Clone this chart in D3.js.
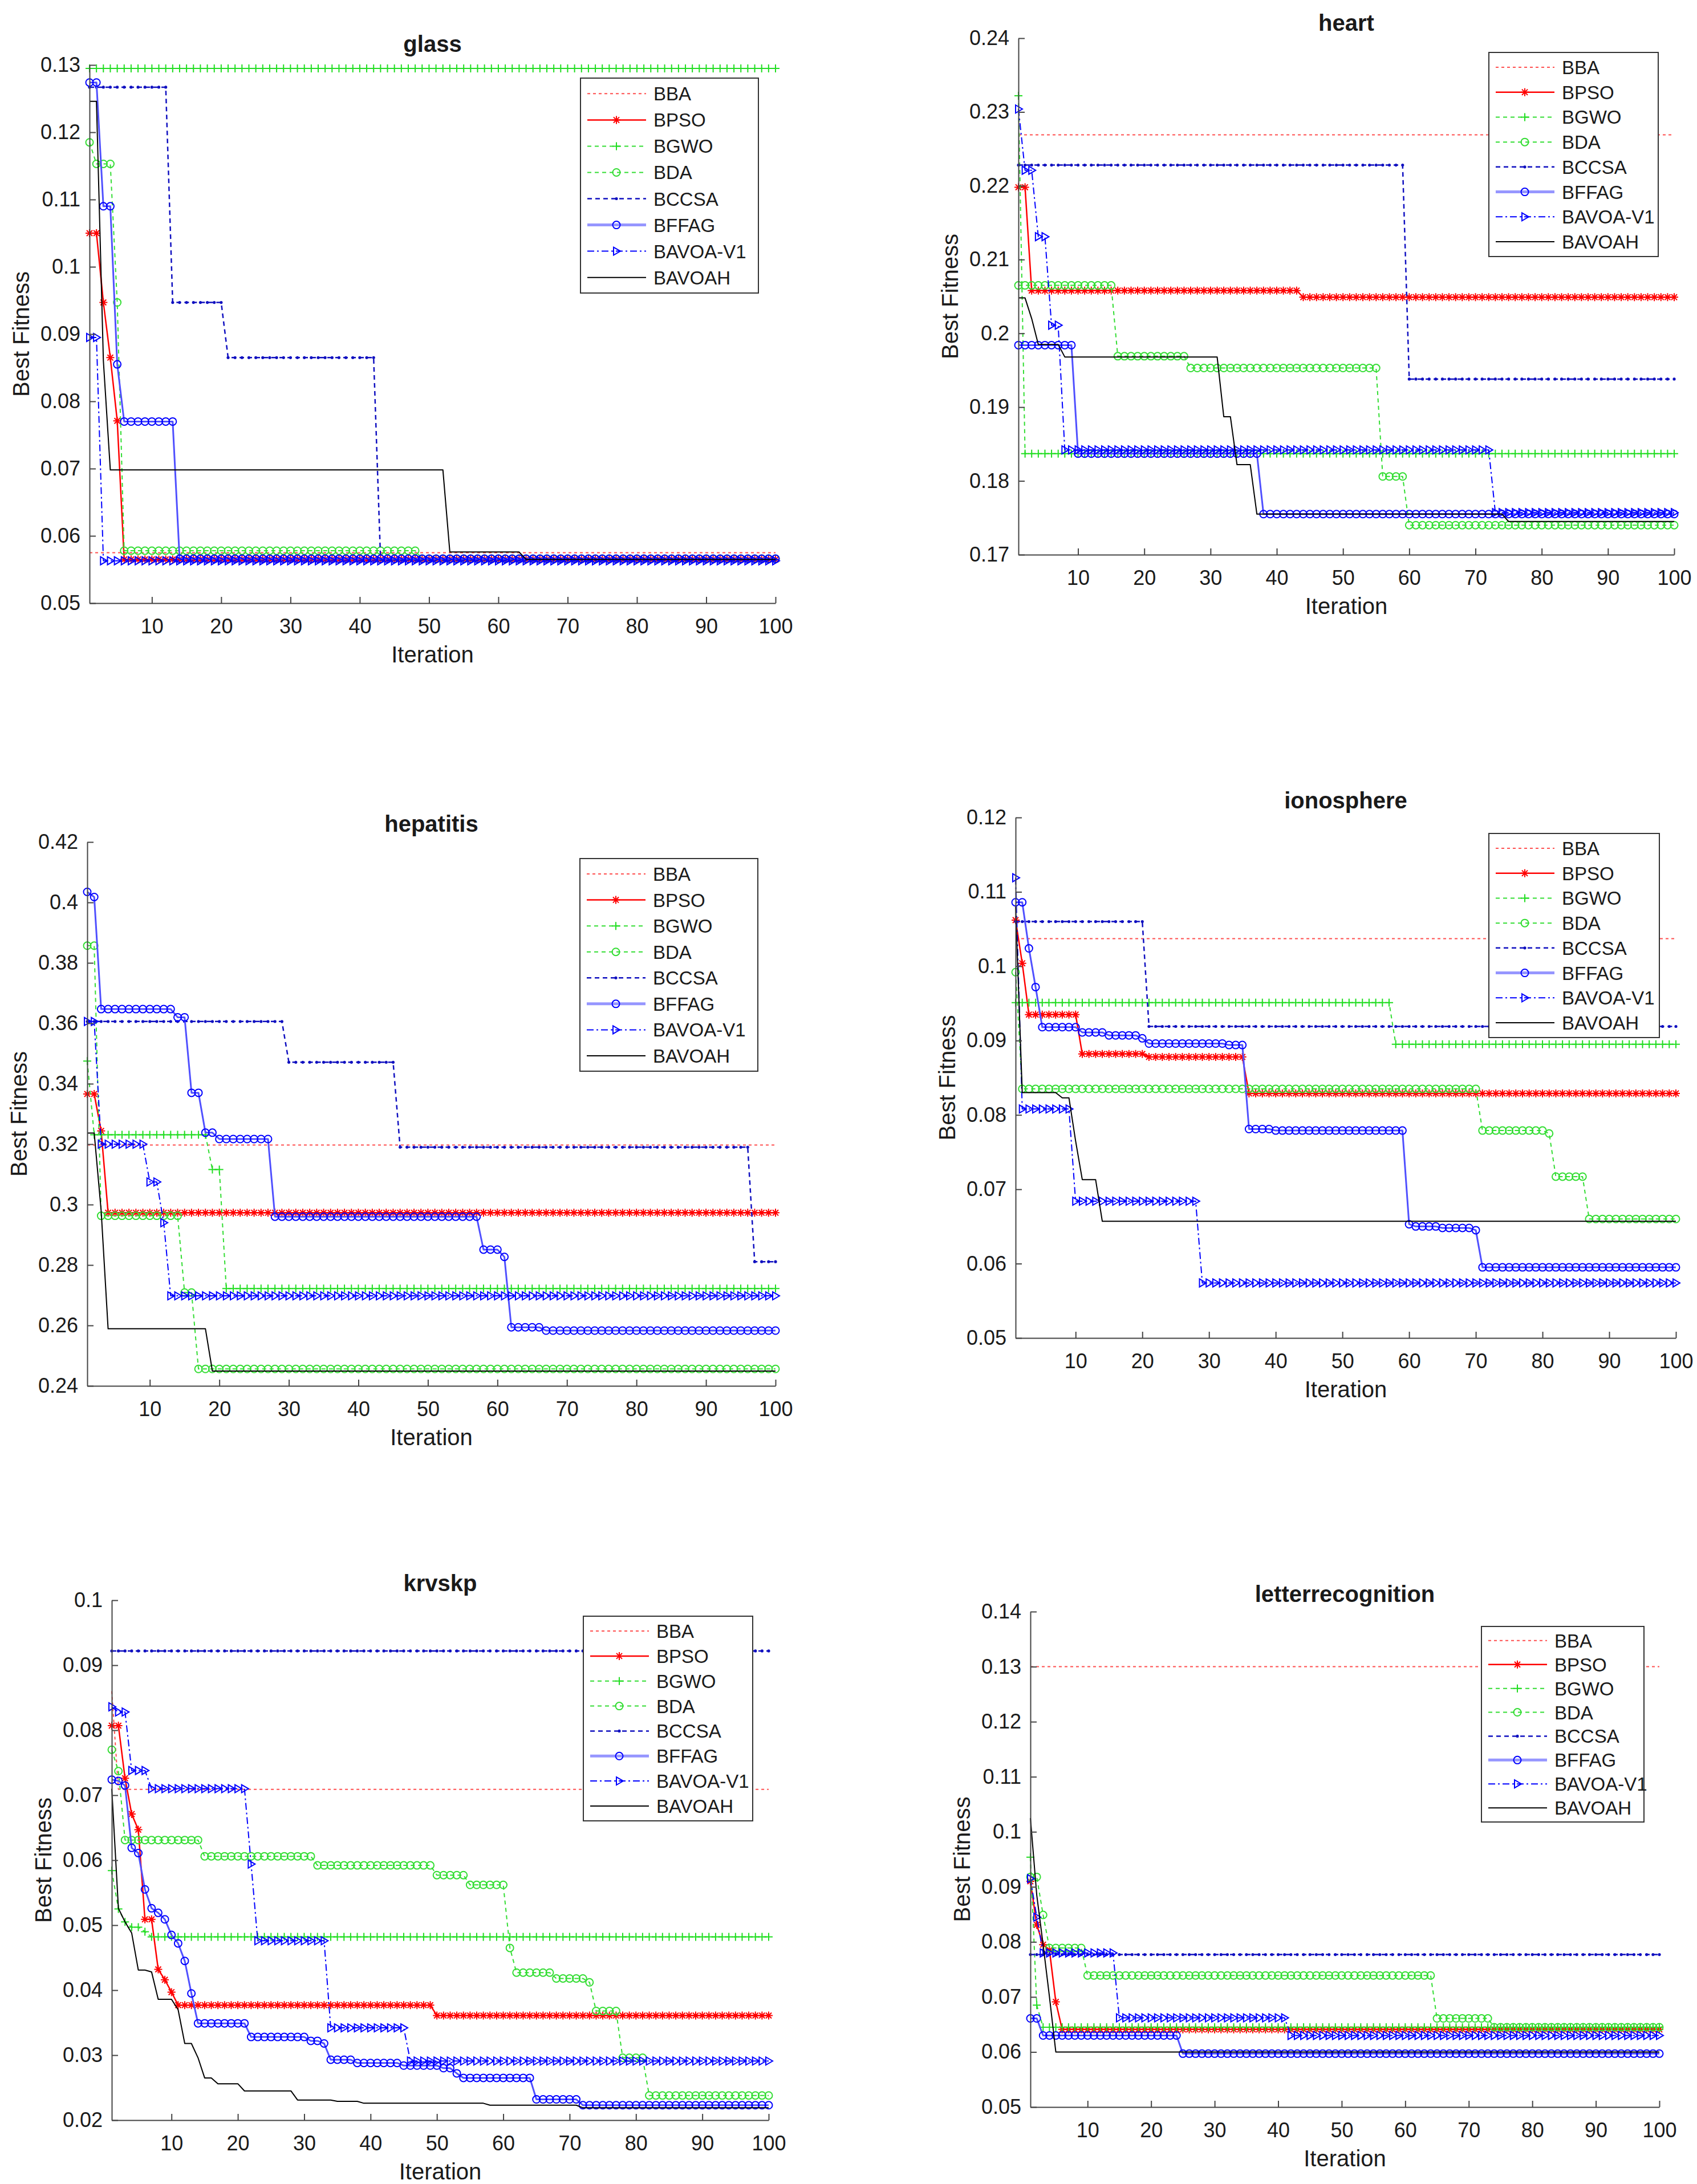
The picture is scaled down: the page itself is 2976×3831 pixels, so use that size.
<!DOCTYPE html>
<html>
<head>
<meta charset="utf-8">
<script src="https://cdn.jsdelivr.net/npm/d3@7"></script>
<style>
  body { margin: 0; background: #fff; }
  text { font-family: "Liberation Sans", Arial, sans-serif; fill: #1a1a1a; }
</style>
</head>
<body>
<svg id="chart" width="2976" height="3831"></svg>
<script>
// Algorithms in plot / legend order
const algorithms = ["BBA", "BPSO", "BGWO", "BDA", "BCCSA", "BFFAG", "BAVOA-V1", "BAVOAH"];
const iterations = d3.range(1, 101);
const xTicks = [10, 20, 30, 40, 50, 60, 70, 80, 90, 100];

// Convergence curves.
// Each entry: [first iteration, best fitness], value held until the next entry.
const glassSteps = [
    [[1, 0.0575]],
    [[1, 0.105], [3, 0.0947], [4, 0.0865], [5, 0.0771], [6, 0.0565]],
    [[1, 0.1295]],
    [[1, 0.1185], [2, 0.1153], [5, 0.0947], [6, 0.0578], [49, 0.0566]],
    [[1, 0.1267], [13, 0.0947], [21, 0.0865], [43, 0.0565]],
    [[1, 0.1274], [3, 0.109], [5, 0.0855], [6, 0.077], [14, 0.0566]],
    [[1, 0.0895], [3, 0.0563]],
    [[1, 0.1246], [3, 0.086], [4, 0.0698], [53, 0.0576], [64, 0.0565]]
];
const heartSteps = [
    [[1, 0.2269]],
    [[1, 0.2198], [3, 0.2058], [44, 0.2049]],
    [[1, 0.2322], [2, 0.1837]],
    [[1, 0.2065], [16, 0.1969], [27, 0.1953], [56, 0.1806], [60, 0.174]],
    [[1, 0.2228], [60, 0.1938]],
    [[1, 0.1984], [10, 0.1837], [38, 0.1755]],
    [[1, 0.2304], [2, 0.2221], [4, 0.2131], [6, 0.2011], [8, 0.1842], [73, 0.1757]],
    [[1, 0.2048], [3, 0.202], [4, 0.1985], [8, 0.1968], [32, 0.1887], [34, 0.1822], [37, 0.1755], [75, 0.1745]]
];
const hepatitisSteps = [
    [[1, 0.3197]],
    [[1, 0.3366], [3, 0.3244], [4, 0.2973]],
    [[1, 0.3475], [2, 0.3231], [19, 0.3116], [21, 0.2722]],
    [[1, 0.3857], [3, 0.2963], [15, 0.2709], [17, 0.2456]],
    [[1, 0.3606], [30, 0.3471], [46, 0.319], [97, 0.2811]],
    [[1, 0.4035], [2, 0.4018], [3, 0.3647], [14, 0.362], [16, 0.337], [18, 0.3238], [20, 0.3217],
     [28, 0.296], [58, 0.2851], [61, 0.2827], [62, 0.2594], [67, 0.2583]],
    [[1, 0.3606], [3, 0.32], [10, 0.3075], [12, 0.294], [13, 0.2698]],
    [[1, 0.3237], [3, 0.298], [4, 0.2589], [19, 0.2449]]
];
const ionosphereSteps = [
    [[1, 0.1037]],
    [[1, 0.1062], [2, 0.1004], [3, 0.0935], [11, 0.0882], [21, 0.0878], [36, 0.0829]],
    [[1, 0.0951], [58, 0.0895]],
    [[1, 0.0992], [2, 0.0835], [71, 0.0779], [81, 0.0775], [82, 0.0717], [87, 0.066]],
    [[1, 0.106], [21, 0.0919]],
    [[1, 0.1086], [3, 0.1024], [4, 0.0972], [5, 0.0918], [11, 0.0911], [15, 0.0907], [20, 0.0903],
     [21, 0.0896], [33, 0.0894], [36, 0.0781], [40, 0.0779], [60, 0.0653], [61, 0.065], [65, 0.0648],
     [70, 0.0645], [71, 0.0595]],
    [[1, 0.1119], [2, 0.0808], [10, 0.0684], [29, 0.0574]],
    [[1, 0.108], [2, 0.083], [8, 0.0823], [10, 0.0765], [11, 0.0713], [14, 0.0657]]
];
const krvskpSteps = [
    [[1, 0.086], [2, 0.0709]],
    [[1, 0.0807], [3, 0.0726], [4, 0.0671], [5, 0.0647], [6, 0.0509], [8, 0.0432], [9, 0.0416],
     [10, 0.0397], [11, 0.0377], [50, 0.0361]],
    [[1, 0.0584], [2, 0.0525], [3, 0.0505], [4, 0.0497], [6, 0.049], [7, 0.0482]],
    [[1, 0.077], [2, 0.0737], [3, 0.0631], [15, 0.0606], [32, 0.0592], [50, 0.0577], [55, 0.0562],
     [61, 0.0465], [62, 0.0427], [68, 0.0418], [73, 0.0412], [74, 0.0368], [78, 0.0296], [82, 0.0238]],
    [[1, 0.0922]],
    [[1, 0.0724], [2, 0.0722], [3, 0.0715], [4, 0.0619], [5, 0.0611], [6, 0.0555], [7, 0.0526],
     [8, 0.0519], [9, 0.0509], [10, 0.0485], [11, 0.0472], [12, 0.0445], [13, 0.0395], [14, 0.0349],
     [22, 0.0328], [31, 0.0322], [33, 0.0318], [34, 0.0293], [38, 0.0288], [45, 0.0284], [51, 0.028],
     [53, 0.0272], [54, 0.0265], [65, 0.0232], [72, 0.0223]],
    [[1, 0.0836], [2, 0.0828], [4, 0.0738], [7, 0.071], [22, 0.0594], [23, 0.0476], [34, 0.0342], [46, 0.0291]],
    [[1, 0.071], [2, 0.0526], [3, 0.0505], [4, 0.0488], [5, 0.0431], [7, 0.0428], [8, 0.0386], [11, 0.037],
     [12, 0.0318], [14, 0.0296], [15, 0.0265], [17, 0.0256], [21, 0.0245], [29, 0.0231], [35, 0.0229],
     [39, 0.0226], [58, 0.0223], [72, 0.0219]]
];
const letterSteps = [
    [[1, 0.13]],
    [[1, 0.091], [2, 0.0831], [3, 0.0795], [4, 0.0785], [5, 0.0691], [6, 0.0641]],
    [[1, 0.0954], [2, 0.0685], [3, 0.0645]],
    [[1, 0.0918], [3, 0.0849], [4, 0.0789], [10, 0.0739], [65, 0.0661], [74, 0.0645]],
    [[1, 0.0777]],
    [[1, 0.0661], [3, 0.063], [25, 0.0597]],
    [[1, 0.0915], [2, 0.0845], [3, 0.078], [15, 0.0662], [42, 0.063]],
    [[1, 0.1025], [2, 0.0885], [3, 0.0795], [4, 0.07], [5, 0.06]]
];

// Y tick values per dataset
const glassTicks = [0.05, 0.06, 0.07, 0.08, 0.09, 0.1, 0.11, 0.12, 0.13];
const heartTicks = [0.17, 0.18, 0.19, 0.2, 0.21, 0.22, 0.23, 0.24];
const hepatitisTicks = [0.24, 0.26, 0.28, 0.3, 0.32, 0.34, 0.36, 0.38, 0.4, 0.42];
const ionosphereTicks = [0.05, 0.06, 0.07, 0.08, 0.09, 0.1, 0.11, 0.12];
const krvskpTicks = [0.02, 0.03, 0.04, 0.05, 0.06, 0.07, 0.08, 0.09, 0.1];
const letterTicks = [0.05, 0.06, 0.07, 0.08, 0.09, 0.1, 0.11, 0.12, 0.13, 0.14];

// Panel layout (pixels) - kept apart from the data
const layout = [
    {left: 157, right: 1360, top: 114, bottom: 1058, titleY: 91, legend: [1018, 137, 1330, 514]},
    {left: 1786, right: 2936, top: 67, bottom: 973, titleY: 54, legend: [2611, 92, 2908, 450]},
    {left: 153, right: 1360, top: 1477, bottom: 2431, titleY: 1459, legend: [1017, 1506, 1329, 1879]},
    {left: 1781, right: 2939, top: 1434, bottom: 2347, titleY: 1418, legend: [2611, 1462, 2910, 1820]},
    {left: 196, right: 1348, top: 2807, bottom: 3719, titleY: 2791, legend: [1023, 2835, 1320, 3194]},
    {left: 1807, right: 2910, top: 2827, bottom: 3696, titleY: 2810, legend: [2598, 2853, 2883, 3196]}
];

const panels = [
    {name: "glass", steps: glassSteps, ticks: glassTicks},
    {name: "heart", steps: heartSteps, ticks: heartTicks},
    {name: "hepatitis", steps: hepatitisSteps, ticks: hepatitisTicks},
    {name: "ionosphere", steps: ionosphereSteps, ticks: ionosphereTicks},
    {name: "krvskp", steps: krvskpSteps, ticks: krvskpTicks},
    {name: "letterrecognition", steps: letterSteps, ticks: letterTicks}
];

// Line / marker style per algorithm (MATLAB-like)
const styles = [
    {color: "#ff5050", width: 2, dash: "5,5", marker: null},
    {color: "#ff0000", width: 2.5, dash: null, marker: "star", mColor: "#ff0000"},
    {color: "#33dd33", width: 2, dash: "7,6", marker: "plus", mColor: "#22dd22"},
    {color: "#33dd33", width: 2, dash: "7,6", marker: "circle", mColor: "#33dd33"},
    {color: "#1010c0", width: 2.5, dash: "8,6", marker: "dot", mColor: "#1010c0"},
    {color: "#5050ff", width: 3, dash: null, marker: "circle", mColor: "#0000ff"},
    {color: "#0000ff", width: 2, dash: "12,5,3,5", marker: "tri", mColor: "#0000ff"},
    {color: "#000000", width: 2, dash: null, marker: null}
];

function markerPath(type) {
    const s = 7, a = s * 0.72, r = 6.5;
    if (type === "plus") return `M${-s},0H${s}M0,${-s}V${s}`;
    if (type === "star") return `M${-s},0H${s}M0,${-s}V${s}M${-a},${-a}L${a},${a}M${-a},${a}L${a},${-a}`;
    if (type === "circle") return `M${r},0A${r},${r} 0 1,1 ${-r},0A${r},${r} 0 1,1 ${r},0Z`;
    if (type === "tri") return `M-5,-7L7,0L-5,7Z`;
    if (type === "dot") return `M2.6,0A2.6,2.6 0 1,1 -2.6,0A2.6,2.6 0 1,1 2.6,0Z`;
    return "";
}

function expand(steps) {
    // hold each read value until the next change point
    return iterations.map(i => {
        let v = steps[0][1];
        steps.forEach(s => { if (s[0] <= i) v = s[1]; });
        return {i: i, v: v};
    });
}

function drawMarkers(g, pts, st, xs, ys) {
    if (!st.marker) return;
    g.selectAll(null)
        .data(pts)
        .enter()
        .append("path")
            .attr("transform", d => "translate(" + xs(d.i) + "," + ys(d.v) + ")")
            .attr("d", markerPath(st.marker))
            .attr("fill", st.marker === "dot" ? st.mColor : "none")
            .attr("stroke", st.mColor)
            .attr("stroke-width", st.marker === "dot" ? 0 : 2);
}

const svg = d3.select("#chart");

panels.forEach((p, k) => {
    const L = layout[k];
    const g = svg.append("g");

    const x = d3.scaleLinear().domain([1, 100]).range([L.left, L.right]);
    const y = d3.scaleLinear().domain([p.ticks[0], p.ticks[p.ticks.length - 1]]).range([L.bottom, L.top]);

    // series
    const line = d3.line().x(d => x(d.i)).y(d => y(d.v));
    p.steps.forEach((steps, j) => {
        const st = styles[j];
        const pts = expand(steps);
        g.append("path")
            .datum(pts)
            .attr("d", line)
            .attr("fill", "none")
            .attr("stroke", st.color)
            .attr("stroke-width", st.width)
            .attr("stroke-dasharray", st.dash)
            .attr("stroke-linejoin", "round");
        drawMarkers(g, pts, st, x, y);
    });

    // axes (MATLAB style: ticks inside, no box)
    const ax = g.append("g")
        .attr("transform", "translate(0," + L.bottom + ")")
        .call(d3.axisBottom(x).tickValues(xTicks).tickSizeInner(-11).tickSizeOuter(0).tickPadding(27));
    const ay = g.append("g")
        .attr("transform", "translate(" + L.left + ",0)")
        .call(d3.axisLeft(y).tickValues(p.ticks).tickFormat(d3.format("~g"))
            .tickSizeInner(-11).tickSizeOuter(0).tickPadding(16));
    [ax, ay].forEach(a => {
        a.select(".domain").attr("stroke", "#444").attr("stroke-width", 2);
        a.selectAll(".tick line").attr("stroke", "#444").attr("stroke-width", 2);
        a.selectAll(".tick text")
            .style("font-family", '"Liberation Sans", Arial, sans-serif')
            .style("font-size", "36px")
            .attr("fill", "#1a1a1a");
    });

    // title and axis labels
    g.append("text")
        .attr("x", (L.left + L.right) / 2)
        .attr("y", L.titleY)
        .attr("text-anchor", "middle")
        .style("font-size", "40px")
        .style("font-weight", "bold")
        .text(p.name);
    g.append("text")
        .attr("x", (L.left + L.right) / 2)
        .attr("y", L.bottom + 104)
        .attr("text-anchor", "middle")
        .style("font-size", "40px")
        .text("Iteration");
    g.append("text")
        .attr("transform", "translate(" + (L.left - 106) + "," + ((L.top + L.bottom) / 2) + ") rotate(-90)")
        .attr("text-anchor", "middle")
        .style("font-size", "40px")
        .text("Best Fitness");

    // legend
    const [lx0, ly0, lx1, ly1] = L.legend;
    const lg = g.append("g");
    lg.append("rect")
        .attr("x", lx0).attr("y", ly0)
        .attr("width", lx1 - lx0).attr("height", ly1 - ly0)
        .attr("fill", "#fff")
        .attr("stroke", "#333")
        .attr("stroke-width", 2);
    const rowH = (ly1 - ly0) * 0.855 / 7;
    algorithms.forEach((name, j) => {
        const st = styles[j];
        const cy = ly0 + (ly1 - ly0) * 0.0725 + j * rowH;
        lg.append("line")
            .attr("x1", lx0 + 12).attr("x2", lx0 + 115)
            .attr("y1", cy).attr("y2", cy)
            .attr("stroke", st.color)
            .attr("stroke-width", j === 5 ? 5 : st.width)
            .attr("stroke-opacity", j === 5 ? 0.6 : 1)
            .attr("stroke-dasharray", st.dash);
        if (st.marker) {
            lg.append("path")
                .attr("transform", "translate(" + (lx0 + 63) + "," + cy + ")")
                .attr("d", markerPath(st.marker))
                .attr("fill", st.marker === "dot" ? st.mColor : "none")
                .attr("stroke", st.mColor)
                .attr("stroke-width", st.marker === "dot" ? 0 : 2);
        }
        lg.append("text")
            .attr("x", lx0 + 128)
            .attr("y", cy + 12)
            .style("font-size", "33px")
            .text(name);
    });
});
</script>
</body>
</html>
